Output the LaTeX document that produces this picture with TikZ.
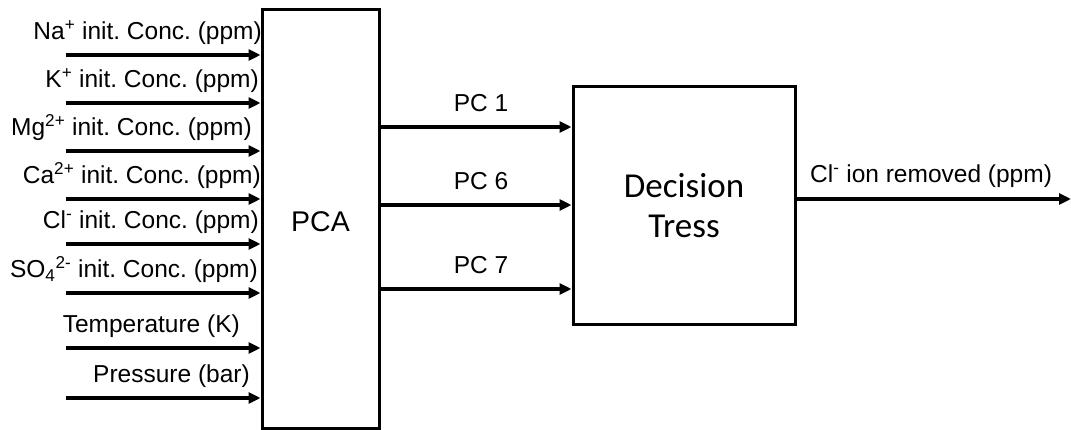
\documentclass[tikz,border=0pt]{standalone}
\usepackage{fontspec}
\setmainfont{Liberation Sans}
\newfontfamily\boxfont{Carlito}
\usetikzlibrary{arrows.meta,calc}
\frenchspacing

\tikzset{
  block/.style={draw=black, line width=3pt, inner sep=0pt},
  feed/.style={line width=3.2pt, -{Triangle[length=12pt,width=11pt]}},
  lbl/.style={font=\fontsize{24.5}{27}\selectfont, inner sep=0pt},
}

\begin{document}
\begin{tikzpicture}[x=1pt,y=-1pt]
  \useasboundingbox (0,0) rectangle (1071,430);

  % blocks
  \node[block, minimum width=117pt, minimum height=418pt] (pca) at (320.5,219) {};
  \node[font=\fontsize{28.5}{30}\selectfont] at (320.5,222) {PCA};
  \node[block, minimum width=222pt, minimum height=238pt, align=center,
        font=\boxfont\fontsize{35}{40}\selectfont] (dt) at (684,206) {Decision\\Tress};

  % input variables
  \foreach \i/\y/\rx/\txt in {
      1/55/262/{Na\textsuperscript{+} init. Conc. (ppm)},
      2/103/259/{K\textsuperscript{+} init. Conc. (ppm)},
      3/151/252/{Mg\textsuperscript{2+} init. Conc. (ppm)},
      4/199/261/{Ca\textsuperscript{2+} init. Conc. (ppm)},
      5/244/259/{Cl\textsuperscript{-} init. Conc. (ppm)},
      6/293/258/{SO\textsubscript{4}\textsuperscript{2-} init. Conc. (ppm)},
      7/348/240/{Temperature (K)},
      8/398/250/{Pressure (bar)}} {
    \coordinate (in\i) at (66,\y);
    \draw[feed] (in\i) -- (in\i -| pca.west);
    \node[lbl, anchor=base east] (t\i) at (\rx,\y-15.5) {\txt};
  }

  % principal components
  \foreach \j/\y/\txt in {1/127/PC 1, 2/205/PC 6, 3/289/PC 7} {
    \coordinate (pc\j) at ($(pca.east |- 0,\y)$);
    \draw[feed] (pc\j) -- (pc\j -| dt.west);
    \node[lbl, anchor=base] (pl\j) at (481,\y-15.5) {\txt};
  }

  % output
  \coordinate (out) at (1071,199);
  \draw[feed] (dt.east |- out) -- (out);
  \node[lbl, anchor=base west] (ol) at (810,183) {Cl\textsuperscript{-} ion removed (ppm)};
\end{tikzpicture}
\end{document}
